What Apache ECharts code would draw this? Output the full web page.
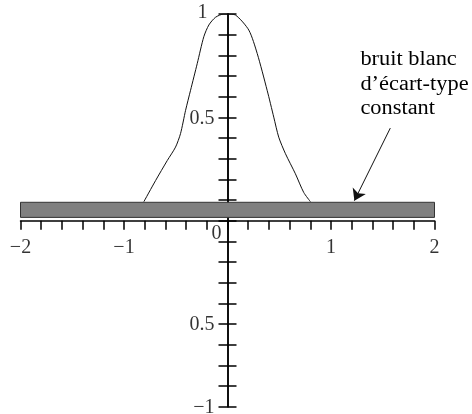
<!DOCTYPE html>
<html>
<head>
<meta charset="utf-8">
<script src="https://cdn.jsdelivr.net/npm/echarts@6/dist/echarts.min.js"></script>
<style>
  html, body { margin: 0; padding: 0; background: #fff; }
  #chart { width: 472px; height: 414px; }
</style>
</head>
<body>
<div id="chart"></div>
<script>
// Signal curve (bell-shaped response) sampled along x
const curveX = [-0.808, -0.695, -0.582, -0.502, -0.454, -0.405, -0.357, -0.292, -0.229, -0.180, -0.116, -0.036, 0,
                0.077, 0.206, 0.287, 0.383, 0.447, 0.495, 0.560, 0.656, 0.736, 0.801];
const curveY = [0.092, 0.194, 0.291, 0.356, 0.421, 0.534, 0.631, 0.761, 0.890, 0.947, 0.984, 1.0, 1.0,
                0.995, 0.922, 0.809, 0.631, 0.501, 0.404, 0.324, 0.227, 0.137, 0.092];

// Constant-level white-noise band
const bandX = [-2, 2];
const bandY = [0.016, 0.089];

// Tick labels
const xLabelValues = [-2, -1, 1, 2];
const xLabelTexts = ['−2', '−1', '1', '2'];
const yLabelValues = [1, 0.5, -0.5, -0.9];
const yLabelTexts = ['1', '0.5', '0.5', '−1'];
const originLabel = '0';

// Annotation
const noteLines = ['bruit blanc', 'd’écart-type', 'constant'];
const noteAnchor = [1.284, 0.838];
const arrowFrom = [1.573, 0.448];
const arrowTo = [1.226, 0.097];

const FONT = 'Liberation Serif';
const INK = '#000';

const chart = echarts.init(document.getElementById('chart'), null, { renderer: 'canvas' });

const axisLineStyle = { color: INK, width: 1.5 };

const yAxisBase = {
  type: 'value',
  min: -0.9,
  max: 1,
  interval: 0.1,
  position: 'left',
  splitLine: { show: false },
  axisLabel: { show: false },
  axisLine: { show: true, onZero: true, onZeroAxisIndex: 0, lineStyle: axisLineStyle }
};

// Invisible anchor points that carry the tick labels next to the crossing axes
const labelPoint = { symbol: 'circle', symbolSize: 0, itemStyle: { color: 'transparent' } };
const labelText = { show: true, fontFamily: FONT, fontSize: 20, color: INK };

const xLabelData = xLabelValues.map(function (v, i) {
  return { value: [v, 0], label: Object.assign({}, labelText, { position: 'bottom', distance: 17, formatter: xLabelTexts[i] }) };
});
const yLabelData = yLabelValues.map(function (v, i) {
  const isTop = v === 1;
  return {
    value: [0, v],
    label: Object.assign({}, labelText, {
      position: 'left',
      distance: isTop ? 20 : 13,
      offset: isTop ? [0, -1.5] : [0, 1],
      formatter: yLabelTexts[i]
    })
  };
});
const originData = [{
  value: [0, 0],
  label: Object.assign({}, labelText, { position: 'bottom', distance: 3, offset: [-11, 0], formatter: originLabel })
}];

const option = {
  animation: false,
  backgroundColor: '#fff',
  textStyle: { fontFamily: FONT },
  grid: { left: 20.5, right: 37.5, top: 14, bottom: 7.3, containLabel: false, outerBoundsMode: 'none' },
  xAxis: {
    type: 'value',
    min: -2,
    max: 2,
    interval: 0.2,
    splitLine: { show: false },
    axisLine: { show: true, onZero: true, onZeroAxisIndex: 0, lineStyle: axisLineStyle },
    axisTick: { show: true, inside: false, length: 9, lineStyle: axisLineStyle },
    axisLabel: { show: false }
  },
  yAxis: [
    Object.assign({}, yAxisBase, {
      axisTick: { show: true, inside: false, length: 9, lineStyle: axisLineStyle }
    }),
    Object.assign({}, yAxisBase, {
      axisTick: { show: true, inside: true, length: 9, lineStyle: axisLineStyle }
    })
  ],
  series: [
    {
      type: 'line',
      name: 'signal',
      data: curveX.map(function (x, i) { return [x, curveY[i]]; }),
      showSymbol: false,
      symbol: 'none',
      smooth: 0.25,
      z: 4,
      lineStyle: { color: '#111', width: 1 },
      markArea: {
        silent: true,
        itemStyle: { color: '#808080', borderColor: '#333', borderWidth: 1 },
        data: [[{ coord: [bandX[0], bandY[0]] }, { coord: [bandX[1], bandY[1]] }]]
      },
      markLine: {
        silent: true,
        symbol: ['none', 'arrow'],
        symbolSize: 11,
        label: { show: false },
        lineStyle: { color: '#111', width: 1, type: 'solid' },
        data: [[{ coord: arrowFrom }, { coord: arrowTo }]]
      }
    },
    Object.assign({ type: 'scatter', name: 'xTickLabels', silent: true, z: 6, data: xLabelData }, labelPoint),
    Object.assign({ type: 'scatter', name: 'yTickLabels', silent: true, z: 6, data: yLabelData }, labelPoint),
    Object.assign({ type: 'scatter', name: 'origin', silent: true, z: 6, data: originData }, labelPoint)
  ]
};

chart.setOption(option);

// Annotation text placed in data coordinates once the grid is laid out;
// stretched a little horizontally to get the wide book-face letter spacing
const notePx = chart.convertToPixel({ gridIndex: 0 }, noteAnchor);
chart.setOption({
  graphic: [
    {
      type: 'text',
      x: notePx[0],
      y: notePx[1],
      scaleX: 1.12,
      z: 10,
      style: {
        text: noteLines.join('\n'),
        font: '20px "' + FONT + '"',
        fill: INK,
        align: 'left',
        verticalAlign: 'top',
        lineHeight: 24.7
      }
    }
  ]
});
</script>
</body>
</html>
